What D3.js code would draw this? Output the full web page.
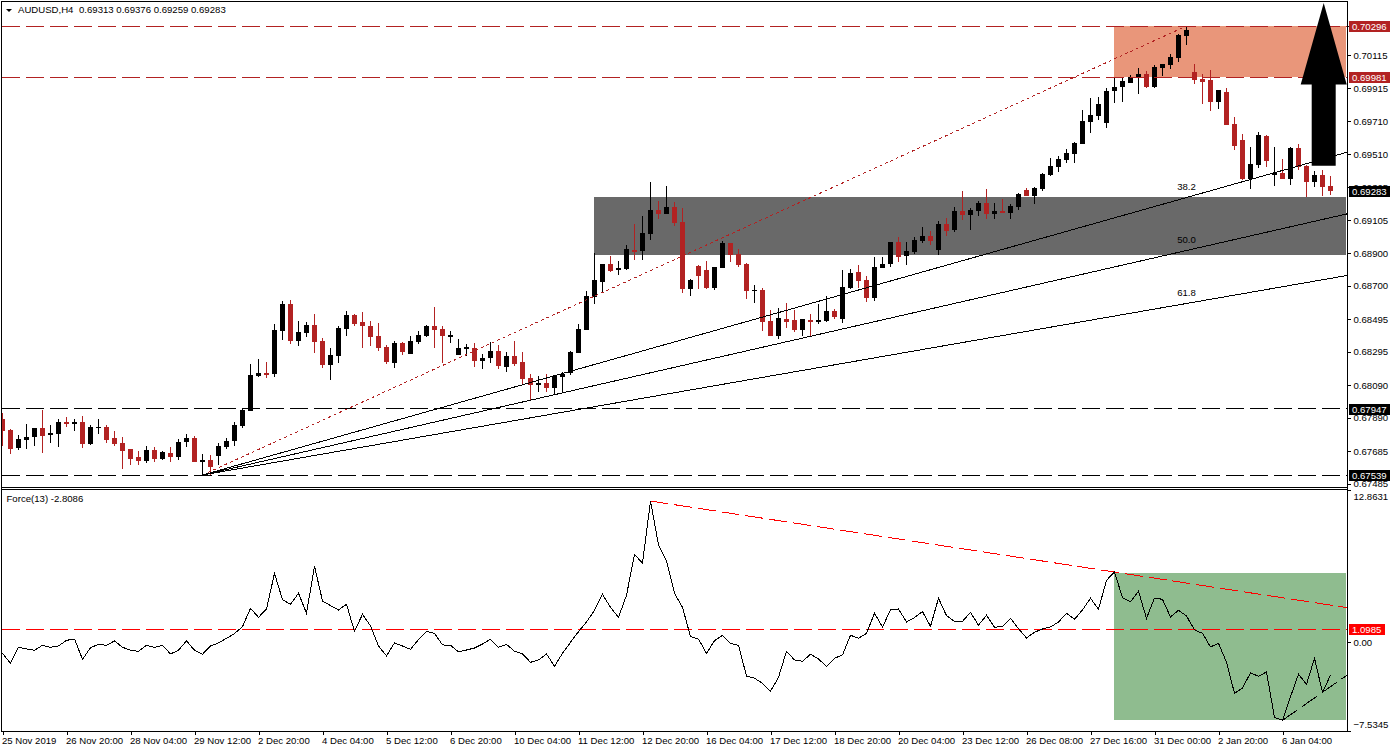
<!DOCTYPE html>
<html><head><meta charset="utf-8">
<script src="https://cdn.jsdelivr.net/npm/d3@7/dist/d3.min.js"></script>
<style>
html,body{margin:0;padding:0;background:#fff;overflow:hidden}
svg{display:block}
text{font-family:"Liberation Sans",Arial,sans-serif;font-size:9.6px;fill:#000}
</style></head><body>
<svg id="c" width="1393" height="752"></svg>
<script>
const title = "AUDUSD,H4";
const titleValues = "0.69313 0.69376 0.69259 0.69283";
const forceTitle = "Force(13) -2.8086";
const opens = [
.67882,.67815,.67706,.67756,.67774,.67827,.67786,.67792,.67864,.67854,
.67864,.67731,.67827,.67833,.67766,.67735,.67698,.67649,.67627,.67692,
.67639,.67674,.67651,.67743,.67766,.67620,.67631,.67657,.67713,.67749,
.67841,.67934,.68149,.68165,.68161,.68425,.68589,.68364,.68413,.68460,
.68361,.68216,.68271,.68437,.68522,.68479,.68454,.68393,.68325,.68229,
.68350,.68284,.68358,.68395,.68454,.68436,.68388,.68278,.68313,.68319,
.68241,.68260,.68300,.68204,.68270,.68233,.68135,.68094,.68104,.68075,
.68143,.68167,.68290,.68429,.68632,.68726,.68835,.68800,.68806,.68921,
.68917,.69021,.69166,.69144,.69185,.69093,.68683,.68823,.68797,.68687,
.68809,.68963,.68895,.68834,.68666,.68674,.68484,.68392,.68496,.68490,
.68429,.68490,.68478,.68484,.68545,.68496,.68687,.68785,.68736,.68625,
.68809,.68834,.68969,.68883,.68908,.68973,.69006,.68920,.69080,.69043,
.69159,.69135,.69159,.69208,.69141,.69159,.69147,.69184,.69288,.69254,
.69295,.69381,.69430,.69473,.69510,.69572,.69707,.69744,.69701,.69897,
.69922,.69946,.69981,.70002,.69922,.70038,.70057,.70100,.70237,.70014,
.69971,.69965,.69830,.69891,.69695,.69596,.69357,.69443,.69621,.69383,
.69394,.69357,.69547,.69437,.69338,.69381,.69313];
const highs = [
.67919,.67821,.67784,.67852,.67827,.67940,.67846,.67882,.67895,.67882,
.67901,.67846,.67882,.67846,.67809,.67772,.67698,.67686,.67717,.67711,
.67686,.67711,.67760,.67790,.67778,.67668,.67661,.67735,.67766,.67864,
.67950,.68220,.68251,.68232,.68466,.68607,.68613,.68484,.68478,.68527,
.68380,.68318,.68454,.68548,.68528,.68540,.68485,.68472,.68337,.68362,
.68356,.68393,.68423,.68460,.68571,.68454,.68423,.68374,.68343,.68350,
.68282,.68356,.68337,.68296,.68362,.68296,.68159,.68147,.68159,.68149,
.68171,.68303,.68466,.68669,.68900,.68835,.68884,.68855,.68951,.69080,
.69130,.69338,.69222,.69314,.69215,.69179,.68745,.68829,.68852,.68816,
.68975,.68963,.68926,.68840,.68705,.68687,.68551,.68564,.68594,.68551,
.68496,.68527,.68588,.68637,.68558,.68797,.68803,.68828,.68760,.68877,
.68877,.68969,.69000,.68969,.69000,.69061,.69037,.69098,.69116,.69184,
.69282,.69178,.69221,.69294,.69208,.69233,.69202,.69270,.69301,.69310,
.69394,.69486,.69498,.69541,.69584,.69780,.69854,.69860,.69914,.69981,
.69981,.69993,.70038,.70020,.70057,.70063,.70124,.70247,.70296,.70063,
.70000,.70026,.69903,.69916,.69737,.69633,.69553,.69645,.69627,.69553,
.69480,.69553,.69572,.69443,.69406,.69412,.69376];
const lows = [
.67719,.67670,.67694,.67700,.67719,.67676,.67737,.67713,.67835,.67811,
.67706,.67725,.67792,.67737,.67719,.67577,.67602,.67602,.67614,.67620,
.67633,.67620,.67633,.67713,.67620,.67539,.67539,.67600,.67700,.67719,
.67829,.67930,.68142,.68136,.68142,.68370,.68345,.68333,.68388,.68290,
.68198,.68124,.68228,.68394,.68456,.68321,.68331,.68303,.68223,.68198,
.68278,.68284,.68346,.68388,.68321,.68229,.68352,.68278,.68272,.68204,
.68192,.68229,.68192,.68174,.68210,.68094,.67997,.68051,.68051,.68030,
.68051,.68155,.68290,.68429,.68589,.68663,.68788,.68769,.68800,.68861,
.68861,.68984,.69113,.69144,.69070,.68659,.68640,.68683,.68680,.68676,
.68809,.68846,.68816,.68619,.68594,.68422,.68392,.68373,.68441,.68416,
.68392,.68386,.68465,.68480,.68496,.68472,.68680,.68687,.68601,.68607,
.68809,.68816,.68846,.68828,.68895,.68963,.68951,.68889,.69006,.69030,
.69104,.69043,.69129,.69110,.69110,.69147,.69110,.69166,.69252,.69205,
.69285,.69375,.69400,.69453,.69455,.69572,.69639,.69719,.69670,.69826,
.69830,.69944,.69879,.69918,.69918,.69989,.70032,.70075,.70180,.69940,
.69817,.69774,.69787,.69688,.69535,.69351,.69295,.69424,.69430,.69314,
.69357,.69320,.69412,.69244,.69308,.69252,.69259];
const closes = [
.67811,.67700,.67760,.67772,.67827,.67780,.67796,.67864,.67852,.67864,
.67731,.67833,.67833,.67756,.67731,.67688,.67639,.67627,.67692,.67639,
.67680,.67651,.67741,.67766,.67620,.67631,.67590,.67717,.67747,.67846,
.67938,.68153,.68165,.68155,.68429,.68589,.68364,.68417,.68460,.68357,
.68216,.68276,.68441,.68521,.68466,.68454,.68388,.68321,.68235,.68350,
.68296,.68362,.68399,.68454,.68431,.68393,.68399,.68319,.68323,.68241,
.68257,.68300,.68210,.68270,.68223,.68131,.68094,.68104,.68073,.68149,
.68161,.68294,.68436,.68638,.68736,.68835,.68792,.68808,.68927,.68910,
.69025,.69166,.69144,.69185,.69089,.68683,.68736,.68763,.68687,.68816,
.68963,.68889,.68828,.68668,.68674,.68478,.68392,.68502,.68478,.68429,
.68496,.68478,.68490,.68545,.68508,.68693,.68779,.68730,.68625,.68816,
.68834,.68969,.68877,.68914,.68981,.69006,.68975,.69080,.69037,.69159,
.69135,.69166,.69208,.69141,.69159,.69149,.69190,.69264,.69252,.69304,
.69387,.69437,.69480,.69516,.69578,.69713,.69750,.69817,.69897,.69922,
.69961,.69981,.70002,.69922,.70045,.70063,.70106,.70241,.70272,.69965,
.69952,.69830,.69903,.69688,.69559,.69357,.69449,.69627,.69467,.69396,
.69357,.69547,.69430,.69338,.69381,.69308,.69283];
const force = [
-0.96,-1.80,-0.45,-0.59,-0.70,-0.28,-0.45,-0.34,0.14,0.25,
-1.47,-0.48,-0.20,-0.28,0.09,-0.45,-0.70,-0.79,-0.28,-0.45,
-0.28,-1.01,-0.70,0.09,-0.70,-1.04,-0.34,-0.08,0.31,0.71,
1.30,2.85,2.09,2.79,5.81,3.58,3.19,4.12,2.43,6.41,
3.47,3.08,2.71,3.19,0.90,2.34,1.36,-0.34,-1.18,-0.08,
-0.34,-0.62,0.20,0.90,0.73,-0.25,-0.28,-0.83,-0.68,-0.51,
-0.17,0.23,-0.45,-0.20,-0.79,-1.01,-1.72,-1.52,-1.01,-2.06,
-0.96,-0.03,0.87,1.69,2.68,4.03,2.93,2.09,3.95,7.42,
6.66,11.93,8.21,6.86,4.12,2.93,0.45,0.25,-0.96,0.11,
0.57,-0.11,-0.28,-2.88,-3.07,-3.50,-4.17,-2.99,-0.79,-1.52,
-1.63,-1.04,-1.44,-2.06,-1.38,-1.10,0.57,0.31,0.73,2.43,
1.27,2.71,2.79,1.69,2.06,2.57,1.33,3.70,2.23,1.75,
1.75,2.51,1.42,2.26,1.24,1.33,2.00,1.13,0.34,0.82,
1.10,1.27,1.69,2.43,1.92,2.71,3.70,2.77,5.22,5.92,
3.75,3.39,4.29,2.00,3.72,3.61,2.12,2.68,2.20,1.02,
0.73,-0.42,-0.11,-1.72,-4.34,-3.89,-2.62,-2.90,-2.54,-6.40,
-6.63,-4.63,-2.73,-3.58,-1.38,-4.26,-2.8086];
const xTickBars = d3.range(0,161,8);
const xTickLabels = ["25 Nov 2019","26 Nov 20:00","28 Nov 04:00","29 Nov 12:00","2 Dec 20:00","4 Dec 04:00","5 Dec 12:00","6 Dec 20:00","10 Dec 04:00","11 Dec 12:00","12 Dec 20:00","16 Dec 04:00","17 Dec 12:00","18 Dec 20:00","20 Dec 04:00","23 Dec 12:00","26 Dec 08:00","27 Dec 16:00","31 Dec 00:00","2 Jan 20:00","6 Jan 04:00"];
const priceTicks = [.70295,.70115,.69915,.69710,.69510,.69305,.69105,.68900,.68700,.68495,.68295,.68090,.67890,.67685,.67485];
const resistanceLevels = [.70296,.69981];
const supportLevels = [.67947,.67539];
const lastPrice = .69283;
const forceTicks = [12.8631,0,-7.5345];
const forceLevel = 1.0985;
const sellZone = {bar:139, top:.70296, bottom:.69981};
const greyZone = {bar:74, top:.69246, bottom:.68892};
const greenZone = {bar:139, top:5.84, bottom:-6.60};
const fanStart = {bar:25, price:.67539};
const fanEnd = {bar:148, price:.70296};
const fanRatios = [38.2,50.0,61.8];
const forceTrendDown = [{bar:81,v:11.93},{bar:139,v:5.92}];
const forceTrendUp = [{bar:160,v:-6.63},{bar:165,v:-4.26}];
const arrowBar = 165.15, arrowTip = .70437, arrowBase = .69937, arrowFoot = .69438, arrowHead = 2.875, arrowShaft = 1.5;

const L=2, R=1347, mainTop=2, mainBottom=487, forceTop=490, forceBottom=731;
const RED="#b22222", BRIGHT="#ff0000";
const x = d3.scaleLinear().domain([0,166]).range([2.5,1330.5]);
const y = d3.scaleLinear().domain([.67539,.70296]).range([475,26]);
const yf = d3.scaleLinear().domain([-7.5345,12.8631]).range([forceBottom,forceTop]);
const endBar = x.invert(R);
const svg = d3.select("#c");
const defs = svg.append("defs");
defs.append("clipPath").attr("id","m").append("rect").attr("x",L).attr("y",mainTop).attr("width",R-L).attr("height",mainBottom-mainTop);
defs.append("clipPath").attr("id","f").append("rect").attr("x",L).attr("y",forceTop).attr("width",R-L).attr("height",forceBottom-forceTop);

const main = svg.append("g").attr("clip-path","url(#m)");
function zone(g,z,sc,fill){
  g.append("rect").attr("x",x(z.bar)-.5).attr("width",R-1-x(z.bar)+.5)
   .attr("y",sc(z.top)).attr("height",sc(z.bottom)-sc(z.top)).attr("fill",fill).attr("shape-rendering","crispEdges");
}
zone(main,greyZone,y,"#696969");
zone(main,sellZone,y,"#e9967a");
const bars = d3.range(opens.length).map(i=>({i,o:opens[i],h:highs[i],l:lows[i],c:closes[i]}));
const cg = main.append("g").attr("shape-rendering","crispEdges");
const col = d=>d.c<d.o?RED:"#000";
cg.selectAll("line").data(bars).join("line")
  .attr("x1",d=>x(d.i)).attr("x2",d=>x(d.i)).attr("y1",d=>y(d.h)).attr("y2",d=>y(d.l)).attr("stroke",col);
cg.selectAll("rect").data(bars).join("rect")
  .attr("x",d=>x(d.i)-2.5).attr("width",5)
  .attr("y",d=>y(Math.max(d.o,d.c))).attr("height",d=>Math.max(1,Math.abs(y(d.o)-y(d.c)))).attr("fill",col);
function hl(g,sc,v,c){
  g.append("line").attr("x1",L).attr("x2",R).attr("y1",sc(v)).attr("y2",sc(v))
   .attr("stroke",c).attr("stroke-dasharray","18,6").attr("shape-rendering","crispEdges");
}
resistanceLevels.forEach(v=>hl(main,y,v,RED));
supportLevels.forEach(v=>hl(main,y,v,"#000"));
const fan = main.append("g");
fan.append("path").attr("d",d3.line().x(d=>x(d.bar)).y(d=>y(d.price))([fanStart,fanEnd]))
  .attr("stroke",RED).attr("stroke-dasharray","3,3").attr("fill","none").attr("shape-rendering","crispEdges");
fanRatios.forEach(r=>{
  const p = fanEnd.price-(r/100)*(fanEnd.price-fanStart.price);
  const k = (p-fanStart.price)/(fanEnd.bar-fanStart.bar);
  const pe = fanStart.price+k*(endBar-fanStart.bar);
  fan.append("path").attr("d",d3.line().x(d=>x(d.bar)).y(d=>y(d.price))([fanStart,{bar:endBar,price:pe}]))
    .attr("stroke","#000").attr("fill","none").attr("shape-rendering","crispEdges");
  fan.append("text").attr("x",x(fanEnd.bar)).attr("y",y(p)-7.5).attr("text-anchor","middle").text(r.toFixed(1));
});
const arrowPts = [[arrowBar,arrowTip],[arrowBar+arrowHead,arrowBase],[arrowBar+arrowShaft,arrowBase],[arrowBar+arrowShaft,arrowFoot],[arrowBar-arrowShaft,arrowFoot],[arrowBar-arrowShaft,arrowBase],[arrowBar-arrowHead,arrowBase]];
main.append("polygon").attr("points",arrowPts.map(d=>[x(d[0]),y(d[1])].join(",")).join(" ")).attr("fill","#000");

const fp = svg.append("g").attr("clip-path","url(#f)");
zone(fp,greenZone,yf,"#8fbc8f");
hl(fp,yf,forceLevel,BRIGHT);
function trend(pts,c){
  const [a,b]=pts, k=(b.v-a.v)/(b.bar-a.bar);
  fp.append("path").attr("d",d3.line().x(d=>x(d.bar)).y(d=>yf(d.v))([a,{bar:endBar,v:a.v+k*(endBar-a.bar)}]))
    .attr("stroke",c).attr("stroke-dasharray","18,6").attr("fill","none").attr("shape-rendering","crispEdges");
}
trend(forceTrendDown,BRIGHT);
trend(forceTrendUp,"#000");
fp.append("path").datum(force).attr("d",d3.line().x((d,i)=>x(i)).y(d=>yf(d)))
  .attr("fill","none").attr("stroke","#000").attr("stroke-width",1).attr("shape-rendering","crispEdges");

const frame = svg.append("g").attr("shape-rendering","crispEdges").attr("stroke","#000").attr("fill","none");
frame.append("path").attr("d",`M1.5,731.5V1.5H${R+.5}V731.5H1.5M1.5,487.5H${R+.5}M1.5,489.5H${R+.5}`);

const ax = svg.append("g").attr("transform",`translate(${R+.5},0)`)
  .call(d3.axisRight(y).tickValues(priceTicks).tickSize(3).tickPadding(3).tickFormat(d3.format(".5f")));
ax.select(".domain").remove();
const axf = svg.append("g").attr("transform",`translate(${R+.5},0)`)
  .call(d3.axisRight(yf).tickValues(forceTicks).tickSize(3).tickPadding(3)
    .tickFormat(d=>d===0?"0.00":d3.format(".4f")(d)));
axf.select(".domain").remove();
axf.selectAll(".tick text").attr("dy",d=>d===forceTicks[0]?"1.0em":d===forceTicks[2]?"-0.32em":"0.32em");
const xa = svg.append("g").attr("transform",`translate(0,${forceBottom+.5})`)
  .call(d3.axisBottom(x).tickValues(xTickBars).tickSize(3).tickPadding(2).tickFormat((d,i)=>xTickLabels[i]));
xa.select(".domain").remove();
xa.selectAll(".tick text").attr("text-anchor","start").attr("x",-1).attr("dy","0.75em");
svg.selectAll(".tick text").style("font-family",'"Liberation Sans",Arial,sans-serif').style("font-size","9.6px");
svg.selectAll(".tick line").attr("shape-rendering","crispEdges");

function box(sc,v,fill,txt,w){
  const yy=Math.round(sc(v));
  svg.append("rect").attr("x",1349).attr("y",yy-5.5).attr("width",w).attr("height",11).attr("fill",fill).attr("shape-rendering","crispEdges");
  svg.append("text").attr("x",1352).attr("y",yy+3.5).style("fill","#fff").text(txt);
}
resistanceLevels.forEach(v=>box(y,v,RED,v.toFixed(5),41));
supportLevels.forEach(v=>box(y,v,"#000",v.toFixed(5),41));
box(y,lastPrice,"#000",lastPrice.toFixed(5),41);
box(yf,forceLevel,BRIGHT,forceLevel.toFixed(4),36);

const head = svg.append("g");
head.append("path").attr("d","M6,9H12L9,12Z").attr("fill","#000");
head.append("text").attr("x",18).attr("y",13).text(title);
head.append("text").attr("x",79).attr("y",13).text(titleValues);
head.append("text").attr("x",6.5).attr("y",502).text(forceTitle);
</script></body></html>
